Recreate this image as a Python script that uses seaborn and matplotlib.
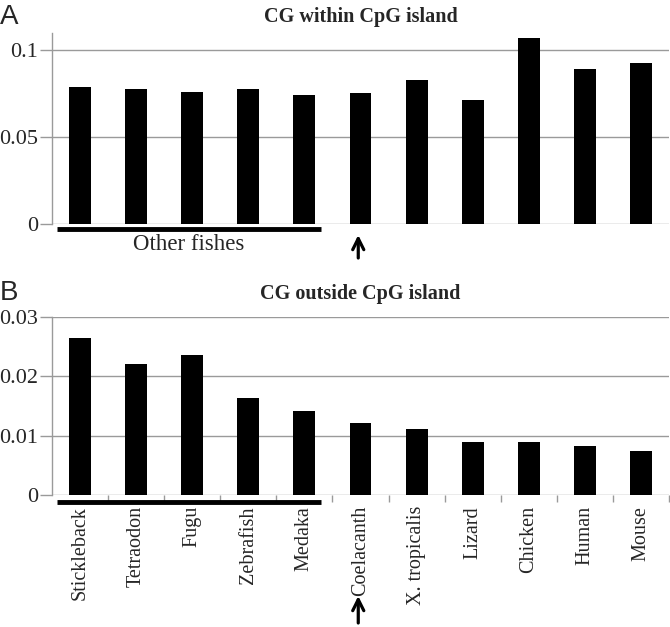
import matplotlib
matplotlib.use("Agg")
import matplotlib.pyplot as plt
import seaborn as sns
import pandas as pd

species = ["Stickleback", "Tetraodon", "Fugu", "Zebrafish", "Medaka", "Coelacanth",
           "X. tropicalis", "Lizard", "Chicken", "Human", "Mouse"]
cg_within = [0.0789, 0.0777, 0.0758, 0.0777, 0.0743, 0.0752, 0.0829, 0.0716, 0.1069, 0.0893, 0.0929]
cg_outside = [0.02645, 0.0220, 0.02348, 0.01638, 0.01419, 0.01204, 0.01115, 0.0090, 0.0090, 0.00828, 0.00748]
titles = ["CG within CpG island", "CG outside CpG island"]
panel_letters = ["A", "B"]
yticks_a = [0, 0.05, 0.1]
yticks_a_labels = ["0", "0.05", "0.1"]
yticks_b = [0, 0.01, 0.02, 0.03]
yticks_b_labels = ["0", "0.01", "0.02", "0.03"]

sns.set_style("white")
plt.rcParams["font.family"] = ["Liberation Serif", "DejaVu Serif"]

W, H = 670, 627
fig = plt.figure(figsize=(W / 100, H / 100), dpi=100)

def px_axes(left, top, right, bottom):
    return fig.add_axes([left / W, 1 - bottom / H, (right - left) / W, (bottom - top) / H])

axA = px_axes(52, 33, 669, 224)
axB = px_axes(52, 316.7, 669, 495)

dfA = pd.DataFrame({"species": species, "value": cg_within})
dfB = pd.DataFrame({"species": species, "value": cg_outside})

grid_col = "#9a9a9a"
for ax, df, ymax, yt, ytl in [(axA, dfA, 0.11, yticks_a, yticks_a_labels),
                              (axB, dfB, 0.03, yticks_b, yticks_b_labels)]:
    sns.barplot(data=df, x="species", y="value", color="black", width=0.39,
                saturation=1, ax=ax, edgecolor="none", zorder=3)
    ax.set_xlim(-0.5, len(species) - 0.5)
    ax.set_ylim(0, ymax)
    ax.set_yticks(yt)
    ax.set_yticklabels(ytl, fontsize=16)
    for y in yt:
        ax.axhline(y, color=grid_col, lw=1.0, zorder=1)
    ax.set_xlabel("")
    ax.set_ylabel("")
    for s in ["top", "right", "bottom"]:
        ax.spines[s].set_visible(False)
    ax.spines["left"].set_color(grid_col)
    ax.spines["left"].set_linewidth(1.0)
    ax.tick_params(axis="y", length=9, width=1.0, color=grid_col, pad=1, left=True)

# Panel A x-axis: no labels
axA.set_xticks([])
# Panel B x-axis labels and boundary ticks
axB.set_xticks(range(len(species)))
axB.set_xticklabels(species, rotation=90, fontsize=14.5)
axB.tick_params(axis="x", which="major", length=0, pad=8)
axB.set_xticks([i + 0.5 for i in range(len(species))], minor=True)
axB.tick_params(axis="x", which="minor", length=5, width=1.0, color=grid_col, bottom=True)

# Titles
axA.set_title(titles[0], fontsize=14.5, fontweight="bold", y=1.0, pad=8)
axB.set_title(titles[1], fontsize=14.5, fontweight="bold", y=1.0, pad=13)

# Panel letters
fig.text(0 / W, 1 - 24 / H, panel_letters[0], fontsize=20, family=["Liberation Sans", "DejaVu Sans"])
fig.text(0 / W, 1 - 300 / H, panel_letters[1], fontsize=20, family=["Liberation Sans", "DejaVu Sans"])

# "Other fishes" underline bars
hA = 191.0
hB = 178.3
axA.plot([-0.41, 4.29], [-5.3 / hA, -5.3 / hA], color="black", lw=3.5,
         transform=axA.get_xaxis_transform(), clip_on=False, solid_capstyle="butt")
axB.plot([-0.41, 4.29], [-6.5 / hB, -6.5 / hB], color="black", lw=3.5,
         transform=axB.get_xaxis_transform(), clip_on=False, solid_capstyle="butt")
axA.text(1.93, -21 / hA, "Other fishes", ha="center", va="center", fontsize=16.5,
         transform=axA.get_xaxis_transform())

# Arrows pointing to Coelacanth
arrow_kw = dict(arrowstyle="->", lw=2.3, color="black", mutation_scale=20,
                shrinkA=0, shrinkB=0)
axA.annotate("", xy=(4.96, -11 / hA), xycoords=axA.get_xaxis_transform(),
             xytext=(4.96, -34 / hA), textcoords=axA.get_xaxis_transform(),
             arrowprops=arrow_kw, annotation_clip=False)
axB.annotate("", xy=(4.96, -101 / hB), xycoords=axB.get_xaxis_transform(),
             xytext=(4.96, -128 / hB), textcoords=axB.get_xaxis_transform(),
             arrowprops=arrow_kw, annotation_clip=False)

fig.savefig("out.png", dpi=100)
